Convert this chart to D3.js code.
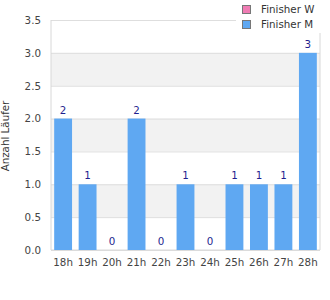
<!DOCTYPE html>
<html>
<head>
<meta charset="utf-8">
<script src="https://cdn.jsdelivr.net/npm/d3@7"></script>
<style>
  body { margin: 0; background: #fff; }
  text { font-family: "DejaVu Sans", sans-serif; }
</style>
</head>
<body>
<svg id="chart" width="330" height="300"></svg>
<script>
// chart data
const hours = ['18h', '19h', '20h', '21h', '22h', '23h', '24h', '25h', '26h', '27h', '28h'];
const finisherW = [0, 0, 0, 0, 0, 0, 0, 0, 0, 0, 0];
const finisherM = [2, 1, 0, 2, 0, 1, 0, 1, 1, 1, 3];
const yTicks = [0, 0.5, 1, 1.5, 2, 2.5, 3, 3.5];
const seriesNames = ['Finisher W', 'Finisher M'];
const seriesColors = ['#f07cb4', '#5fa8f2'];

const svg = d3.select('#chart');
const margin = { top: 20, right: 10, bottom: 50, left: 51 };
const innerW = 330 - margin.left - margin.right;
const innerH = 300 - margin.top - margin.bottom;
const fs = '10.3px';

const x = d3.scaleBand().domain(hours).range([0, innerW]).paddingInner(0.27).paddingOuter(0.13);
const y = d3.scaleLinear().domain([0, 3.5]).range([innerH, 0]);

const g = svg.append('g').attr('transform', `translate(${margin.left},${margin.top})`);

// alternating bands
for (let i = 0; i < yTicks.length - 1; i++) {
  if (i % 2 === 1) {
    g.append('rect')
      .attr('x', 0).attr('width', innerW)
      .attr('y', y(yTicks[i + 1])).attr('height', y(yTicks[i]) - y(yTicks[i + 1]))
      .attr('fill', '#f2f2f2');
  }
}

// gridlines + y labels
const yAxisG = g.append('g')
  .call(d3.axisLeft(y).tickValues(yTicks).tickFormat(d3.format('.1f')).tickSize(-innerW).tickPadding(10));
yAxisG.select('.domain').remove();
yAxisG.selectAll('.tick line').attr('stroke', '#dedede');
yAxisG.selectAll('.tick text').attr('fill', '#444').style('font-size', fs);

// frame
g.append('line').attr('x1', 0).attr('x2', 0).attr('y1', 0).attr('y2', innerH).attr('stroke', '#d8d8d8');
g.append('line').attr('x1', innerW).attr('x2', innerW).attr('y1', 0).attr('y2', innerH).attr('stroke', '#d8d8d8');
g.append('line').attr('x1', 0).attr('x2', innerW).attr('y1', innerH).attr('y2', innerH).attr('stroke', '#d8d8d8');

// bars
const rows = hours.map((h, i) => ({ h, w: finisherW[i], m: finisherM[i] }));
g.selectAll('rect.bar').data(rows).enter().append('rect')
  .attr('class', 'bar')
  .attr('x', d => x(d.h))
  .attr('width', x.bandwidth())
  .attr('y', d => y(d.m))
  .attr('height', d => innerH - y(d.m))
  .attr('fill', seriesColors[1]);

// value labels
g.selectAll('text.val').data(rows).enter().append('text')
  .attr('class', 'val')
  .attr('x', d => x(d.h) + x.bandwidth() / 2)
  .attr('y', d => y(d.m) - 5)
  .attr('text-anchor', 'middle')
  .attr('fill', '#1f1f8f')
  .style('font-size', fs)
  .text(d => d.m);

// x labels
const xAxisG = g.append('g')
  .attr('transform', `translate(0,${innerH})`)
  .call(d3.axisBottom(x).tickSize(0).tickPadding(9));
xAxisG.select('.domain').remove();
xAxisG.selectAll('text').attr('fill', '#444').style('font-size', fs);

// y axis title
svg.append('text')
  .attr('transform', 'translate(9,136) rotate(-90)')
  .attr('text-anchor', 'middle')
  .attr('fill', '#333')
  .style('font-size', fs)
  .text('Anzahl Läufer');

// legend
const leg = svg.append('g');
leg.append('rect').attr('x', 236).attr('y', 0).attr('width', 94).attr('height', 33).attr('fill', '#fff');
seriesNames.forEach((name, i) => {
  leg.append('rect')
    .attr('x', 242.5).attr('y', 5.5 + i * 15)
    .attr('width', 8).attr('height', 8)
    .attr('fill', seriesColors[i]).attr('stroke', '#777');
  leg.append('text')
    .attr('x', 261).attr('y', 13 + i * 15)
    .attr('fill', '#333')
    .style('font-size', fs)
    .text(name);
});
</script>
</body>
</html>
